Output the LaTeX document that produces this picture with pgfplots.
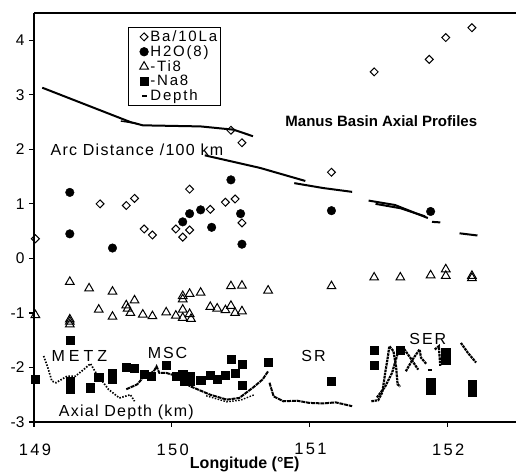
\documentclass[border=0pt]{standalone}
\usepackage{fontspec}
\setmainfont{Liberation Sans}
\newfontfamily\trk[LetterSpace=8]{Liberation Sans}
\newfontfamily\trkm[LetterSpace=12]{Liberation Sans}
\newfontfamily\trkt[LetterSpace=14]{Liberation Sans}
\newfontfamily\trkw[LetterSpace=25]{Liberation Sans}
\usepackage{pgfplots}
\pgfplotsset{compat=1.18}

\pgfplotstableread{
x y
149.01 0.36
149.48 1.00
149.67 0.97
149.73 1.10
149.80 0.54
149.86 0.43
150.03 0.54
150.08 0.39
150.13 0.52
150.13 1.27
150.28 0.90
150.39 1.03
150.46 1.09
150.51 0.65
150.43 2.35
150.51 2.12
151.16 1.58
151.47 3.42
151.87 3.65
151.99 4.05
152.18 4.23
}\tblBa

\pgfplotstableread{
x y
149.26 1.21
149.26 0.45
149.57 0.19
150.08 0.67
150.13 0.82
150.21 0.89
150.29 0.57
150.43 1.44
150.50 0.82
150.51 0.26
151.16 0.875
151.88 0.86
}\tblH

\pgfplotstableread{
x y
149.01 -1.04
149.26 -0.43
149.26 -1.12
149.26 -1.16
149.26 -1.21
149.40 -0.55
149.47 -0.94
149.57 -0.61
149.57 -1.07
149.67 -0.86
149.68 -0.92
149.70 -1.00
149.73 -0.77
149.79 -1.03
149.86 -1.06
149.96 -0.99
150.03 -1.05
150.08 -0.69
150.08 -0.75
150.08 -0.94
150.08 -1.09
150.13 -0.65
150.13 -1.02
150.14 -1.11
150.21 -0.63
150.28 -0.89
150.33 -0.92
150.39 -0.95
150.43 -0.87
150.46 -1.00
150.43 -0.51
150.51 -0.50
150.51 -0.97
150.70 -0.59
151.16 -0.51
151.47 -0.35
151.66 -0.35
151.88 -0.31
151.99 -0.20
151.99 -0.32
152.18 -0.32
152.18 -0.36
}\tblTi

\pgfplotstableread{
x y
149.01 -2.21
149.26 -1.50
149.26 -2.25
149.26 -2.39
149.41 -2.37
149.47 -2.18
149.57 -2.10
149.57 -2.21
149.67 -2.00
149.73 -2.02
149.80 -2.13
149.85 -2.16
149.96 -1.96
150.03 -2.16
150.08 -2.13
150.09 -2.25
150.13 -2.16
150.13 -2.25
150.21 -2.24
150.28 -2.14
150.33 -2.22
150.39 -2.14
150.43 -1.85
150.46 -2.11
150.51 -1.94
150.51 -2.33
150.70 -1.91
151.16 -2.25
151.47 -1.68
151.47 -1.96
151.66 -1.68
151.88 -2.28
151.88 -2.41
151.99 -1.73
151.99 -1.87
152.18 -2.31
152.18 -2.46
}\tblNa

\begin{document}
\begin{tikzpicture}
\begin{axis}[name=ax, scale only axis, width=482pt, height=409pt,
  xmin=149, xmax=152.5, ymin=-3, ymax=4.5,
  axis x line*=bottom, axis y line*=left,
  axis line style={line width=1.8pt, -},
  xtick={149,150,151,152}, ytick={-3,-2,-1,0,1,2,3,4},
  tick align=outside, major tick length=5pt,
  tick style={line width=1.2pt, black},
  /pgf/number format/assume math mode=true,
  xticklabel style={font=\fontsize{16.5}{18}\selectfont\trkt, yshift=-13pt, xshift=1pt},
  yticklabel style={font=\fontsize{15.5}{17}\selectfont, xshift=-1pt},
  clip=false,
  legend style={at={(rel axis cs:0.195,0.966)}, anchor=north west,
    draw=black, line width=0.6pt, fill=white,
    font=\fontsize{15}{15}\selectfont\trkm, inner sep=1.5pt, row sep=-1.5pt,
    cells={anchor=west}},
  legend cell align=left,
  legend image code/.code={\path (0pt,0pt); \draw[#1] plot coordinates {(14pt,0pt)};},
]
% ---- Depth: arc distance lines
\addplot[forget plot, black, line width=2pt] coordinates {(149.06,3.13)(149.70,2.50)(149.79,2.44)(150.21,2.42)(150.45,2.36)(150.59,2.24)};
\addplot[forget plot, black, line width=1.4pt] coordinates {(149.63,2.52)(149.75,2.47)};
\addplot[forget plot, black, line width=2pt] coordinates {(150.24,1.89)(150.64,1.66)(150.97,1.42)};
\addplot[forget plot, black, line width=2pt] coordinates {(150.89,1.38)(151.10,1.29)(151.31,1.22)};
\addplot[forget plot, black, line width=2pt] coordinates {(151.43,1.06)(151.62,0.98)(151.86,0.74)};
\addplot[forget plot, black, line width=2pt] coordinates {(151.48,1.00)(151.66,0.92)(151.84,0.77)};
\addplot[forget plot, black, line width=2pt] coordinates {(151.89,0.67)(151.95,0.66)};
\addplot[forget plot, black, line width=2pt] coordinates {(152.09,0.46)(152.22,0.42)};
% ---- Depth: axial depth profiles
\addplot[forget plot, black, line width=1.7pt, dash pattern=on 1.5pt off 1.5pt] coordinates {(149.07,-1.79)(149.10,-2.00)(149.13,-2.25)(149.16,-2.28)(149.20,-2.22)(149.24,-2.16)(149.30,-2.16)(149.36,-2.04)(149.41,-1.93)(149.45,-2.10)(149.54,-2.40)(149.59,-2.50)(149.62,-2.56)(149.70,-2.50)(149.73,-2.62)};
\addplot[forget plot, black, line width=2pt, dash pattern=on 4pt off 0.8pt] coordinates {(149.67,-2.40)(149.75,-2.31)(149.79,-2.19)(149.87,-2.07)(149.89,-1.98)(149.91,-2.10)(149.96,-2.10)(150.04,-2.16)(150.13,-2.34)(150.28,-2.50)(150.40,-2.59)(150.49,-2.56)(150.59,-2.37)(150.66,-2.22)(150.70,-2.07)};
\addplot[forget plot, black, line width=1.4pt, dash pattern=on 1.5pt off 1.5pt] coordinates {(150.25,-2.52)(150.40,-2.63)(150.50,-2.60)(150.60,-2.50)};
\addplot[forget plot, black, line width=2pt, dash pattern=on 4pt off 0.8pt] coordinates {(150.71,-2.28)(150.74,-2.53)(150.81,-2.62)(150.91,-2.61)(151.00,-2.65)(151.10,-2.66)(151.19,-2.64)(151.31,-2.71)};
\addplot[forget plot, black, line width=2.2pt, dash pattern=on 2.5pt off 0.8pt] coordinates {(151.45,-2.62)(151.50,-2.60)(151.53,-2.45)(151.55,-2.10)(151.57,-1.80)(151.58,-1.61)(151.61,-1.70)(151.63,-2.00)(151.64,-2.31)(151.66,-2.35)};
\addplot[forget plot, black, line width=2.2pt, dash pattern=on 2.5pt off 0.8pt] coordinates {(151.49,-2.55)(151.55,-2.35)(151.60,-2.10)(151.64,-1.75)(151.66,-1.64)(151.69,-1.67)(151.74,-1.85)(151.79,-2.04)};
\addplot[forget plot, black, line width=2.2pt, dash pattern=on 2.5pt off 0.8pt] coordinates {(151.70,-2.07)(151.75,-1.85)(151.80,-1.67)(151.81,-1.82)(151.85,-1.94)};
\addplot[forget plot, black, line width=1.8pt] coordinates {(151.86,-2.04)(151.89,-2.04)};
\addplot[forget plot, black, line width=2.2pt, dash pattern=on 2.5pt off 0.8pt] coordinates {(151.91,-1.67)(151.94,-1.61)(151.95,-1.97)};
\addplot[forget plot, black, line width=2.2pt, dash pattern=on 2.5pt off 0.8pt] coordinates {(152.10,-1.55)(152.15,-1.73)(152.21,-1.91)};
% ---- scatter series
\addplot[only marks, mark=square, mark size=2.8pt, mark options={rotate=45, draw=black, fill=white, line width=1pt}] table[x=x,y=y] {\tblBa};
\addlegendentry{Ba/10La}
\addplot[only marks, mark=*, mark size=4.3pt, mark options={draw=black, fill=black}] table[x=x,y=y] {\tblH};
\addlegendentry{H2O(8)}
\addplot[only marks, mark=triangle, mark size=5pt, mark options={draw=black, fill=white, line width=1pt}] table[x=x,y=y] {\tblTi};
\addlegendentry{-Ti8}
\addplot[only marks, mark=square*, mark size=4.1pt, mark options={draw=black, fill=black}] table[x=x,y=y] {\tblNa};
\addlegendentry{-Na8}
\addlegendimage{legend image code/.code={\path (0pt,0pt); \draw[black, line width=1.5pt] (12pt,0pt) -- (17pt,0pt);}}
\addlegendentry{Depth}
% ---- top border and annotations
\draw[line width=1.4pt] (rel axis cs:0,1) -- (rel axis cs:1,1);
\node[anchor=west, font=\fontsize{16}{18}\selectfont\trk] at (axis cs:149.095,2.0) {Arc Distance /100 km};
\node[anchor=west, font=\fontsize{15}{17}\selectfont\bfseries] at (axis cs:150.80,2.52) {Manus Basin Axial Profiles};
\node[font=\fontsize{16}{18}\selectfont\trkw] at (axis cs:149.33,-1.79) {METZ};
\node[font=\fontsize{16}{18}\selectfont\trkm] at (axis cs:149.97,-1.73) {MSC};
\node[font=\fontsize{16}{18}\selectfont\trkm] at (axis cs:151.03,-1.79) {SR};
\node[font=\fontsize{16}{18}\selectfont\trkm] at (axis cs:151.86,-1.47) {SER};
\node[font=\fontsize{16}{18}\selectfont\trk] at (axis cs:149.67,-2.83) {Axial Depth (km)};
\node[font=\fontsize{16}{18}\selectfont\bfseries] at (axis cs:150.53,-3) [yshift=-42pt] {Longitude (°E)};
\end{axis}
\pgfresetboundingbox
\path[use as bounding box] ([shift={(-34pt,-53pt)}]ax.south west) rectangle ([shift={(0pt,13pt)}]ax.north east);
\end{tikzpicture}
\end{document}
